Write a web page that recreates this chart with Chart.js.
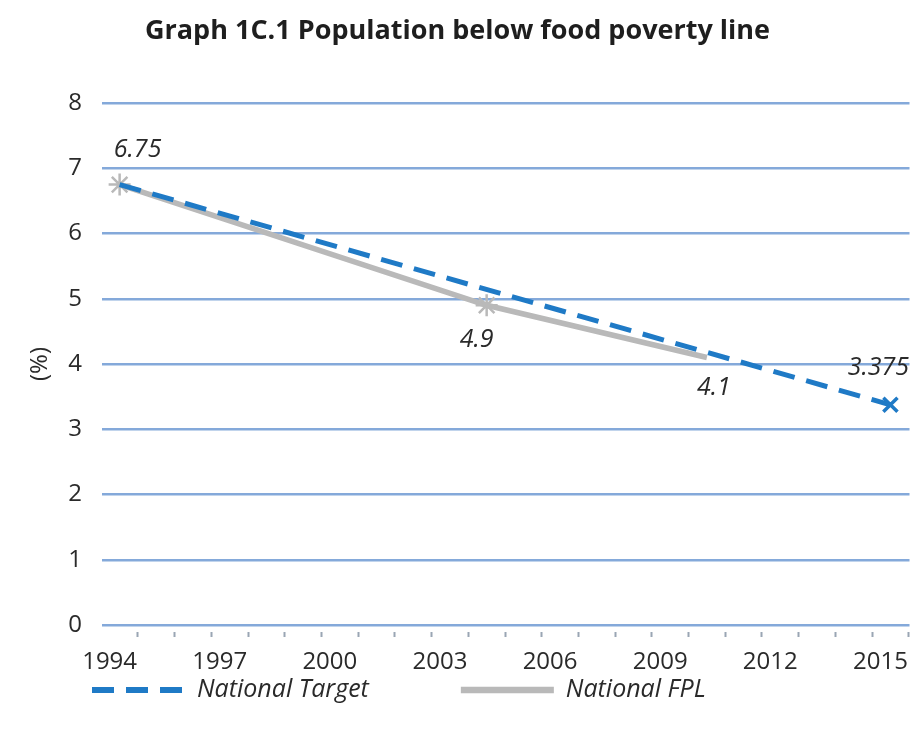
<!DOCTYPE html>
<html>
<head>
<meta charset="utf-8">
<script src="https://cdn.jsdelivr.net/npm/chart.js@4/dist/chart.umd.min.js"></script>
<style>
    body { margin: 0; background: #ffffff; }
    #wrap { width: 923px; height: 731px; }
</style>
</head>
<body>
<div id="wrap"><canvas id="povertyChart"></canvas></div>
<script>
// data
const chartTitle = 'Graph 1C.1 Population below food poverty line';
const yAxisTitle = '(%)';
const seriesNames = ['National Target', 'National FPL'];

const allYears = [1994, 1995, 1996, 1997, 1998, 1999, 2000, 2001, 2002, 2003, 2004,
                  2005, 2006, 2007, 2008, 2009, 2010, 2011, 2012, 2013, 2014, 2015];
const labelYears = [1994, 1997, 2000, 2003, 2006, 2009, 2012, 2015];

const targetYears = [1994, 2015];
const targetValues = [6.75, 3.375];

const fplYears = [1994, 2004, 2010];
const fplValues = [6.75, 4.9, 4.1];

// which points carry a value label, and where the text sits from the point
const targetLabelOffsets = [null, [-12, -37]];
const fplLabelOffsets = [[18, -35], [-10, 35], [7, 30]];

const BLUE = '#1f7ac6';
const GREY = '#b9b9b9';
const GRID = '#84a9da';
const TEXT = '#2a2a2a';
const FONT = '"Open Sans", "DejaVu Sans", sans-serif';

function toPoints(xs, ys)
{
    return xs.map((x, i) => ({x: x, y: ys[i]}));
}

const pointLabels = {
    id: 'pointLabels',
    afterDatasetsDraw(chart)
    {
        let ctx = chart.ctx;
        ctx.save();
        ctx.font = 'italic 25px ' + FONT;
        ctx.fillStyle = TEXT;
        ctx.textAlign = 'center';
        ctx.textBaseline = 'middle';
        chart.data.datasets.forEach((ds, i) => {
            let meta = chart.getDatasetMeta(i);
            ds.labelOffsets.forEach((off, j) => {
                if (!off) return;
                let pt = meta.data[j];
                ctx.fillText(String(ds.data[j].y), pt.x + off[0], pt.y + off[1]);
            });
        });
        ctx.restore();
    }
};

// legend drawn as line samples like the original
const lineLegend = {
    id: 'lineLegend',
    afterDraw(chart)
    {
        let ctx = chart.ctx;
        let x = 92;
        let y = 690;
        ctx.save();
        ctx.font = 'italic 25px ' + FONT;
        ctx.textBaseline = 'middle';
        ctx.textAlign = 'left';
        chart.data.datasets.forEach(ds => {
            ctx.beginPath();
            ctx.setLineDash(ds.borderDash || []);
            ctx.lineWidth = ds.borderWidth + 1;
            ctx.strokeStyle = ds.borderColor;
            ctx.moveTo(x, y);
            ctx.lineTo(x + 93, y);
            ctx.stroke();
            ctx.setLineDash([]);
            ctx.fillStyle = TEXT;
            ctx.fillText(ds.label, x + 105, y);
            x += 105 + ctx.measureText(ds.label).width + 92;
        });
        ctx.restore();
    }
};

const chart = new Chart(document.getElementById('povertyChart').getContext('2d'), {
    type: 'line',
    data: {
        datasets: [
            {
                label: seriesNames[0],
                data: toPoints(targetYears, targetValues),
                labelOffsets: targetLabelOffsets,
                borderColor: BLUE,
                borderWidth: 5,
                borderDash: [22, 12],
                tension: 0,
                fill: false,
                pointStyle: 'crossRot',
                pointRadius: [0, 10],
                pointBorderColor: BLUE,
                pointBorderWidth: 3.5
            },
            {
                label: seriesNames[1],
                data: toPoints(fplYears, fplValues),
                labelOffsets: fplLabelOffsets,
                borderColor: GREY,
                borderWidth: 5.5,
                tension: 0,
                fill: false,
                pointStyle: 'star',
                pointRadius: [11, 11, 0],
                pointBorderColor: GREY,
                pointBorderWidth: 2.5
            }
        ]
    },
    options: {
        responsive: true,
        maintainAspectRatio: false,
        animation: false,
        layout: { padding: { left: 0, right: 8, top: 0, bottom: 56 } },
        plugins: {
            legend: { display: false },
            tooltip: { enabled: false },
            title: {
                display: true,
                text: chartTitle,
                color: '#1e1e1e',
                font: { family: FONT, size: 27, weight: 'bold', lineHeight: 1.2 },
                padding: { top: 15, bottom: 55.6 }
            }
        },
        scales: {
            x: {
                type: 'linear',
                min: 1993.52,
                max: 2015.52,
                afterBuildTicks: s => { s.ticks = allYears.map(v => ({value: v})); },
                afterFit: s => {
                    s.height = 50;
                    s.paddingLeft = 0;
                    s.paddingRight = 0;
                },
                border: { display: false },
                grid: {
                    drawOnChartArea: false,
                    offset: true,
                    color: '#9aa6b4',
                    tickLength: 12,
                    tickWidth: 2,
                    tickBorderDash: [0, 7, 5, 30]
                },
                ticks: {
                    autoSkip: false,
                    maxRotation: 0,
                    padding: 11,
                    labelOffset: -10,
                    color: TEXT,
                    font: { family: FONT, size: 24 },
                    callback: v => labelYears.includes(v) ? String(v) : ''
                }
            },
            y: {
                min: 0,
                max: 8,
                afterFit: s => { s.width = 102; },
                border: { display: false },
                grid: { color: GRID, lineWidth: 2.5, drawTicks: false },
                ticks: {
                    stepSize: 1,
                    padding: 20,
                    color: TEXT,
                    font: { family: FONT, size: 24 }
                },
                title: {
                    display: true,
                    text: yAxisTitle,
                    color: TEXT,
                    font: { family: FONT, size: 24 },
                    padding: { top: 26, bottom: 0 }
                }
            }
        }
    },
    plugins: [pointLabels, lineLegend]
});
</script>
</body>
</html>
